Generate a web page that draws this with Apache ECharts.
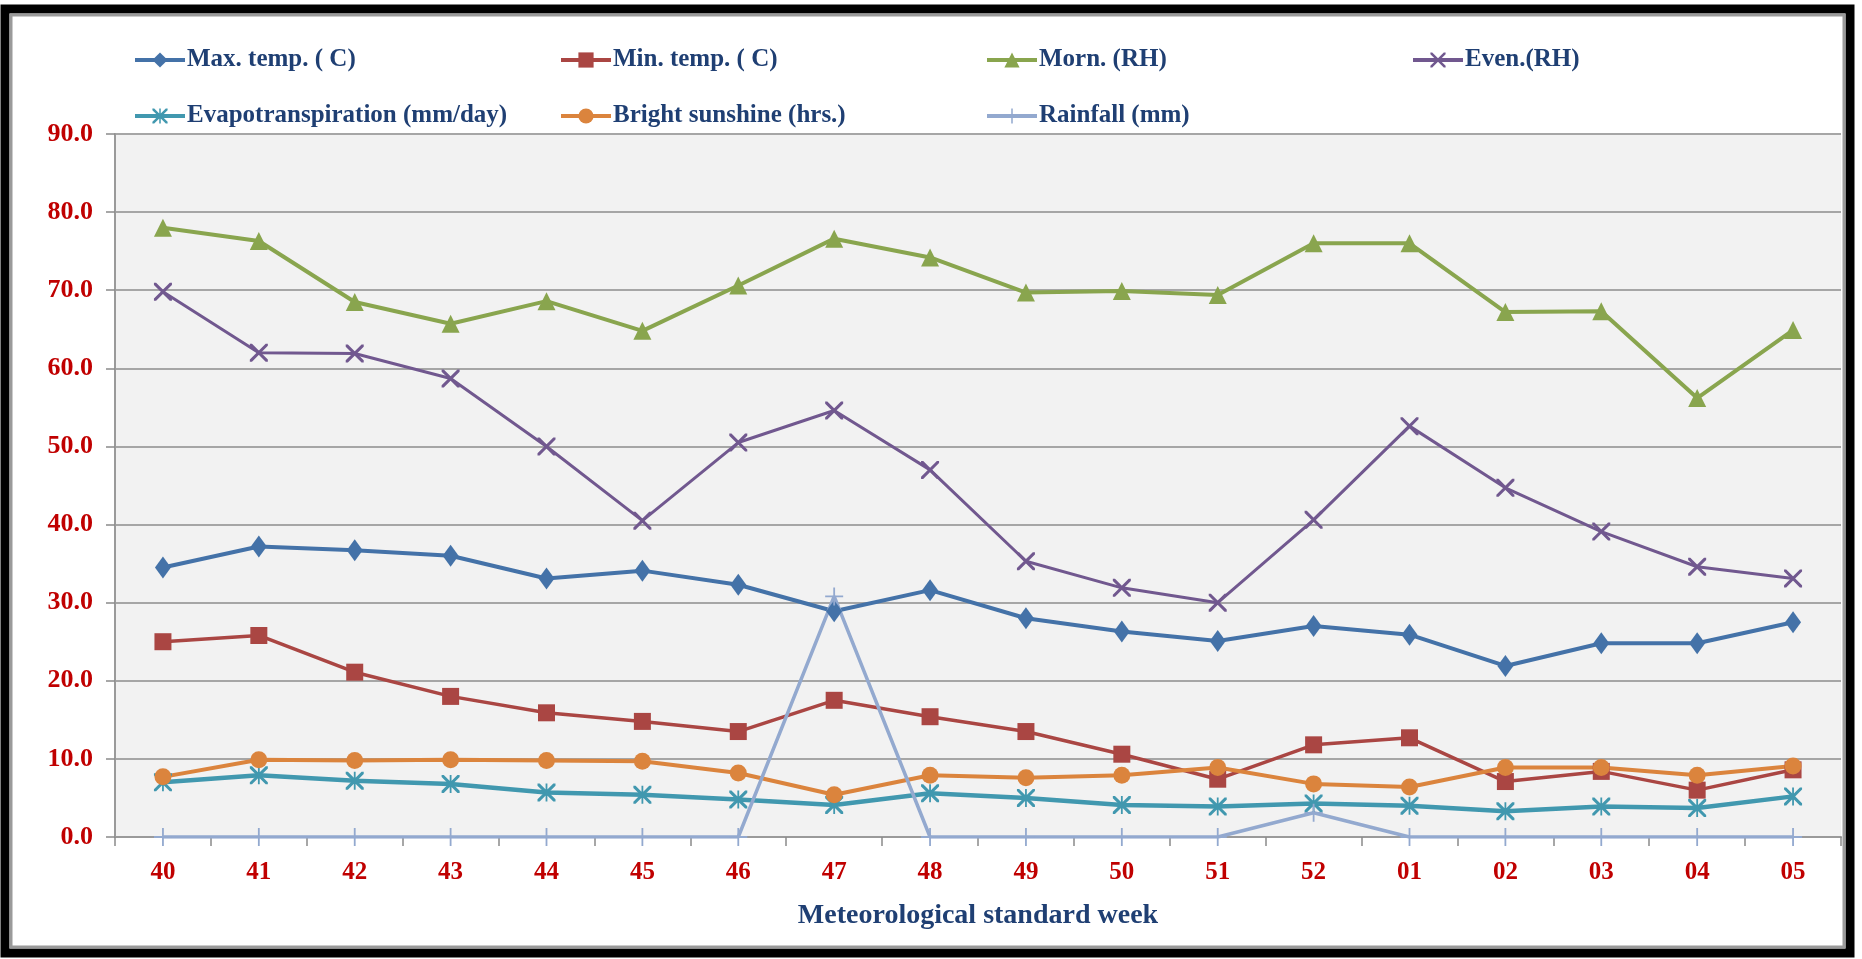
<!DOCTYPE html>
<html>
<head>
<meta charset="utf-8">
<title>Weekly weather parameters</title>
<script src="https://cdn.jsdelivr.net/npm/echarts@6/dist/echarts.min.js"></script>
<style>
  html, body { margin: 0; padding: 0; background: #fff; }
  #chart { width: 1862px; height: 959px; }
</style>
</head>
<body>
<div id="chart"></div>
<script>
// Meteorological standard weeks
const weeks = ['40', '41', '42', '43', '44', '45', '46', '47', '48',
  '49', '50', '51', '52', '01', '02', '03', '04', '05'];

// Series values
const maxTemp = [34.5, 37.2, 36.7, 36.0, 33.1, 34.1, 32.3, 28.9, 31.6,
  28.0, 26.3, 25.1, 27.0, 25.9, 21.9, 24.8, 24.8, 27.5];
const minTemp = [25.0, 25.8, 21.1, 18.0, 15.9, 14.8, 13.5, 17.5, 15.4,
  13.5, 10.6, 7.4, 11.8, 12.7, 7.1, 8.4, 6.0, 8.6];
const mornRH = [78.0, 76.3, 68.5, 65.7, 68.6, 64.8, 70.6, 76.6, 74.2,
  69.7, 69.9, 69.4, 76.0, 76.0, 67.2, 67.3, 56.2, 64.9];
const evenRH = [69.8, 62.0, 61.9, 58.7, 50.0, 40.5, 50.5, 54.6, 47.0,
  35.3, 31.9, 30.0, 40.6, 52.6, 44.7, 39.1, 34.6, 33.1];
const evapo = [7.0, 7.9, 7.2, 6.8, 5.7, 5.4, 4.8, 4.1, 5.6,
  5.0, 4.1, 3.9, 4.3, 4.0, 3.3, 3.9, 3.7, 5.2];
const sunshine = [7.7, 9.9, 9.8, 9.9, 9.8, 9.7, 8.2, 5.4, 7.9,
  7.6, 7.9, 8.9, 6.8, 6.4, 8.9, 8.9, 7.9, 9.1];
const rainfall = [0, 0, 0, 0, 0, 0, 0, 30.8, 0,
  0, 0, 0, 3.1, 0, 0, 0, 0, 0];

const yTicks = { min: 0, max: 90, interval: 10 };

// thin-stroke marker shapes (paths get filled, so strokes are drawn as slim polygons)
const CROSS = 'path://M0,0L1.2,0L10,8.8L10,10L8.8,10L0,1.2Z M10,0L10,1.2L1.2,10L0,10L0,8.8L8.8,0Z';
const STAR = 'path://M0,0L1.2,0L10,8.8L10,10L8.8,10L0,1.2Z M10,0L10,1.2L1.2,10L0,10L0,8.8L8.8,0Z M4.5,0L5.5,0L5.5,10L4.5,10Z';
const PLUS = 'path://M4.5,0L5.5,0L5.5,10L4.5,10Z M0,4.5L10,4.5L10,5.5L0,5.5Z';

const serif = '"Liberation Serif", "Times New Roman", serif';
const legendBlue = '#1F3F73';
const labelRed = '#C00000';

function lineSeries(name, data, color, symbol, symbolSize, width) {
  return {
    name,
    type: 'line',
    data,
    symbol,
    symbolSize,
    lineStyle: { color, width },
    itemStyle: { color },
    emphasis: { disabled: true },
    z: 3,
  };
}

const chart = echarts.init(document.getElementById('chart'));

chart.setOption({
  animation: false,
  color: ['#4472A8', '#AA4643', '#89A54E', '#71588F', '#4198AF', '#DB843D', '#93A9CF'],
  graphic: [
    {
      type: 'rect',
      shape: { x: 5, y: 9, width: 1845, height: 944 },
      style: { fill: 'none', stroke: '#000', lineWidth: 9 },
      z: 0,
    },
    {
      type: 'rect',
      shape: { x: 11, y: 15, width: 1833, height: 932 },
      style: { fill: 'none', stroke: '#9a9a9a', lineWidth: 3 },
      z: 0,
    },
  ],
  legend: {
    left: 128,
    top: 37,
    width: 1720,
    itemWidth: 50,
    itemHeight: 19,
    itemGap: 20,
    lineStyle: { width: 4 },
    textStyle: {
      fontFamily: serif,
      fontWeight: 'bold',
      fontSize: 25,
      color: legendBlue,
      width: 352,
      lineHeight: 36,
      padding: [0, 0, 0, -3],
    },
    data: ['Max. temp. ( C)', 'Min. temp. ( C)', 'Morn. (RH)', 'Even.(RH)',
      'Evapotranspiration (mm/day)', 'Bright sunshine (hrs.)', 'Rainfall (mm)'],
  },
  grid: { left: 115, right: 21, top: 134, bottom: 122, containLabel: false,
    show: true, backgroundColor: '#F2F2F2', borderWidth: 0 },
  xAxis: {
    type: 'category',
    data: weeks,
    boundaryGap: true,
    name: 'Meteorological standard week',
    nameLocation: 'middle',
    nameGap: 65,
    nameTextStyle: { fontFamily: serif, fontWeight: 'bold', fontSize: 28, color: legendBlue },
    axisLine: { lineStyle: { color: '#9a9a9a', width: 2 } },
    axisTick: { show: true, alignWithLabel: false, length: 9, lineStyle: { color: '#8a8a8a', width: 1.5 } },
    axisLabel: { margin: 23, fontFamily: serif, fontWeight: 'bold', fontSize: 25, color: labelRed },
    splitLine: { show: false },
  },
  yAxis: {
    type: 'value',
    min: yTicks.min,
    max: yTicks.max,
    interval: yTicks.interval,
    axisLine: { show: true, lineStyle: { color: '#9a9a9a', width: 2 } },
    axisTick: { show: true, length: 9, lineStyle: { color: '#8a8a8a', width: 1.5 } },
    axisLabel: {
      margin: 22,
      fontFamily: serif,
      fontWeight: 'bold',
      fontSize: 26,
      color: labelRed,
      formatter: v => v.toFixed(1),
    },
    splitLine: { lineStyle: { color: '#a6a6a6', width: 2 } },
  },
  series: [
    lineSeries('Max. temp. ( C)', maxTemp, '#4472A8', 'diamond', [16, 22], 4),
    lineSeries('Min. temp. ( C)', minTemp, '#AA4643', 'rect', 17, 3.5),
    lineSeries('Morn. (RH)', mornRH, '#89A54E', 'triangle', 18, 4),
    lineSeries('Even.(RH)', evenRH, '#71588F', CROSS, 18, 3),
    lineSeries('Evapotranspiration (mm/day)', evapo, '#4198AF', STAR, 18, 4.5),
    lineSeries('Bright sunshine (hrs.)', sunshine, '#DB843D', 'circle', 17, 4),
    lineSeries('Rainfall (mm)', rainfall, '#93A9CF', PLUS, 18, 3.5),
  ],
});
</script>
</body>
</html>
